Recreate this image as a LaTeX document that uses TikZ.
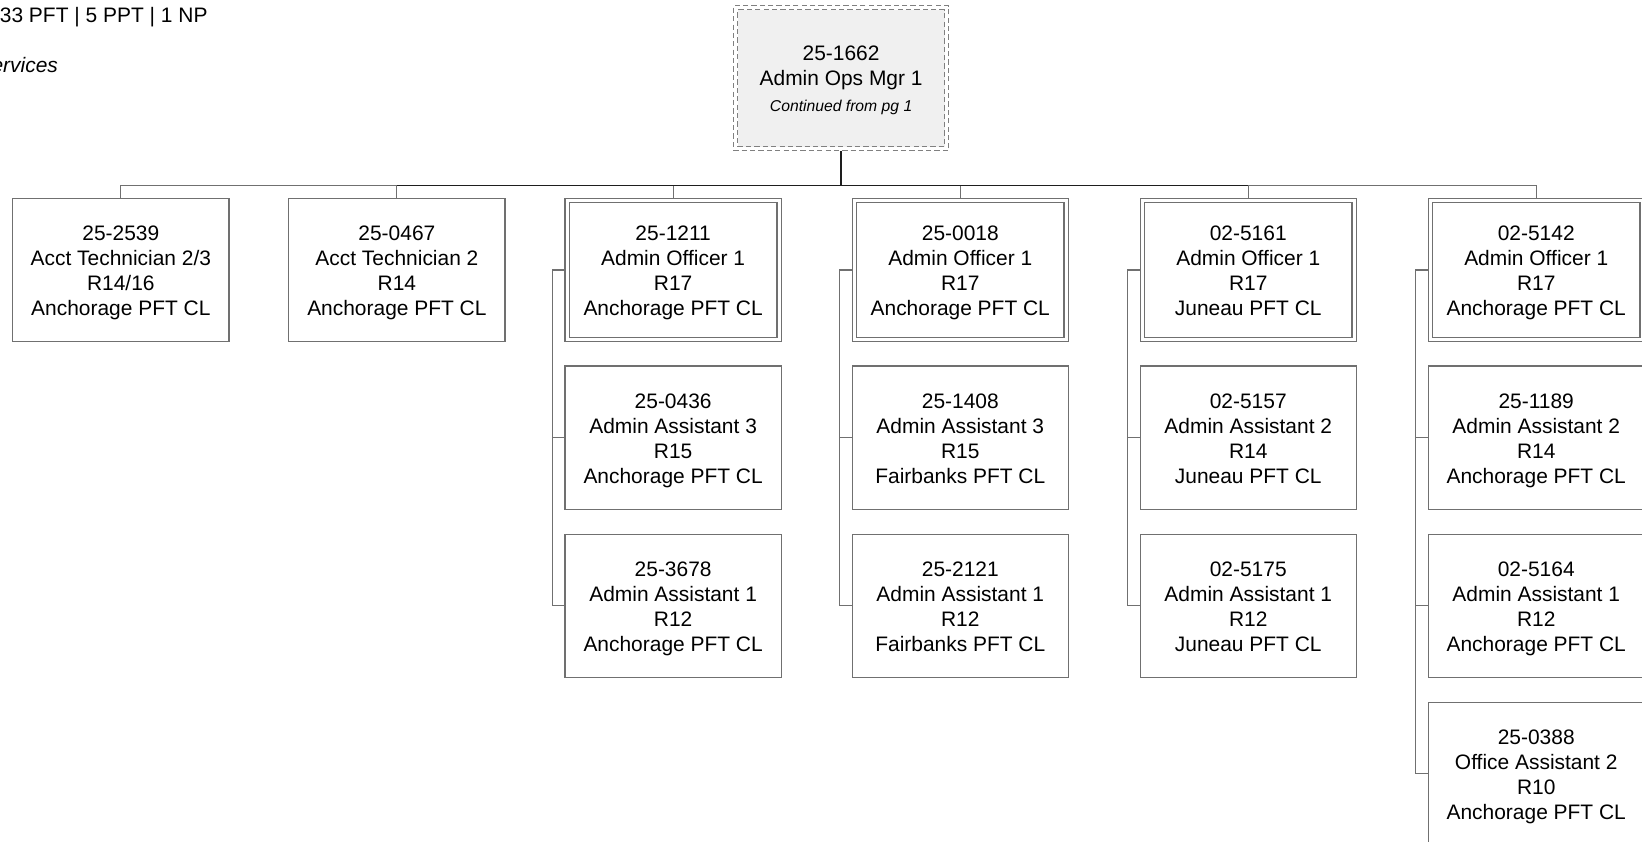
\documentclass[tikz,border=0pt]{standalone}
\usepackage{fontspec}
\setmainfont{Liberation Sans}
\usetikzlibrary{calc}
\definecolor{lgray}{RGB}{112,112,112}
\definecolor{dgray}{RGB}{30,30,30}
\definecolor{dashgray}{RGB}{128,128,128}
\definecolor{topfill}{RGB}{240,240,240}
\newcommand\bfnt{\fontsize{20}{23.9}\selectfont}
\newcommand\posn[4]{\rule{0pt}{19.3pt}#1\\#2\\#3\\\rule[-4.3pt]{0pt}{4.3pt}#4}
\begin{document}
\begin{tikzpicture}[x=1pt,y=-1pt,
 posbox/.style={draw=lgray, line width=1.1pt, minimum width=206.6pt, minimum height=136.9pt, inner sep=0pt, outer sep=0.55pt, align=center, font=\bfnt},
 dposbox/.style={posbox, double=white, double distance=3.1pt, minimum width=202.4pt, minimum height=132.7pt, outer sep=2.65pt},
 conn/.style={draw=lgray, line width=1.1pt},
 dconn/.style={draw=dgray, line width=1.1pt},
 dashbox/.style={draw=dashgray, line width=1pt, dash pattern=on 5pt off 3pt}]
\useasboundingbox (0,0) rectangle (1568,803.1);

% header texts
\node[anchor=base west, inner sep=0, font=\bfnt] (hdr1) at (-0.3,21.7) {33 PFT | 5 PPT | 1 NP};
\node[anchor=base east, inner sep=0, font=\bfnt\itshape] (hdr2) at (55.5,69.4) {ervices};

% top box
\node[dashbox, fill=topfill, minimum width=197.6pt, minimum height=130.5pt, inner sep=0pt, align=center, font=\bfnt] (top) at (803.2,74.75)
 {\rule{0pt}{18.35pt}25-1662\\Admin Ops Mgr 1\\[0.75pt]{\fontsize{15}{18}\selectfont\itshape Continued from pg 1}};
\node[dashbox, minimum width=205.8pt, minimum height=138.5pt, inner sep=0pt] (topo) at (top.center) {};

% first row
\node[posbox]  (b11) at (115.4,257.9) {\posn{25-2539}{Acct Technician 2/3}{R14/16}{Anchorage PFT CL}};
\node[posbox]  (b21) at (379,257.9)   {\posn{25-0467}{Acct Technician 2}{R14}{Anchorage PFT CL}};
\node[dposbox] (b31) at (642.8,257.9) {\posn{25-1211}{Admin Officer 1}{R17}{Anchorage PFT CL}};
\node[dposbox] (b41) at (917,257.9)   {\posn{25-0018}{Admin Officer 1}{R17}{Anchorage PFT CL}};
\node[dposbox] (b51) at (1192,257.9)  {\posn{02-5161}{Admin Officer 1}{R17}{Juneau PFT CL}};
\node[dposbox] (b61) at (1467,257.9)  {\posn{02-5142}{Admin Officer 1}{R17}{Anchorage PFT CL}};

% column 3
\node[posbox] (b32) at (642.8,418)   {\posn{25-0436}{Admin Assistant 3}{R15}{Anchorage PFT CL}};
\node[posbox] (b33) at (642.8,578.5) {\posn{25-3678}{Admin Assistant 1}{R12}{Anchorage PFT CL}};
% column 4
\node[posbox] (b42) at (917,418)   {\posn{25-1408}{Admin Assistant 3}{R15}{Fairbanks PFT CL}};
\node[posbox] (b43) at (917,578.5) {\posn{25-2121}{Admin Assistant 1}{R12}{Fairbanks PFT CL}};
% column 5
\node[posbox] (b52) at (1192,418)   {\posn{02-5157}{Admin Assistant 2}{R14}{Juneau PFT CL}};
\node[posbox] (b53) at (1192,578.5) {\posn{02-5175}{Admin Assistant 1}{R12}{Juneau PFT CL}};
% column 6
\node[posbox] (b62) at (1467,418)   {\posn{25-1189}{Admin Assistant 2}{R14}{Anchorage PFT CL}};
\node[posbox] (b63) at (1467,578.5) {\posn{02-5164}{Admin Assistant 1}{R12}{Anchorage PFT CL}};
\node[posbox] (b64) at (1467,739)   {\posn{25-0388}{Office Assistant 2}{R10}{Anchorage PFT CL}};

% connectors from top
\coordinate (bus) at (803.2,177.3);
\draw[dconn, line width=1.4pt] (topo.south) -- (bus);
\draw[conn] (b11.north) -- (b11.north |- bus) -- (b61.north |- bus) -- (b61.north);
\foreach \b in {b21,b31,b41,b51} {\draw[conn] (\b.north) -- (\b.north |- bus);}
\draw[dconn] (b21.north |- bus) -- (b51.north |- bus);

% side connectors
\draw[conn] (b31.west) -- ++(-11.1,0) |- (b33.west);
\draw[conn] (b32.west) -- ++(-11.1,0);
\draw[conn] (b41.west) -- ++(-11.1,0) |- (b43.west);
\draw[conn] (b42.west) -- ++(-11.1,0);
\draw[conn] (b51.west) -- ++(-11.1,0) |- (b53.west);
\draw[conn] (b52.west) -- ++(-11.1,0);
\draw[conn] (b61.west) -- ++(-11.1,0) |- (b64.west);
\draw[conn] (b62.west) -- ++(-11.1,0);
\draw[conn] (b63.west) -- ++(-11.1,0);
\end{tikzpicture}
\end{document}
